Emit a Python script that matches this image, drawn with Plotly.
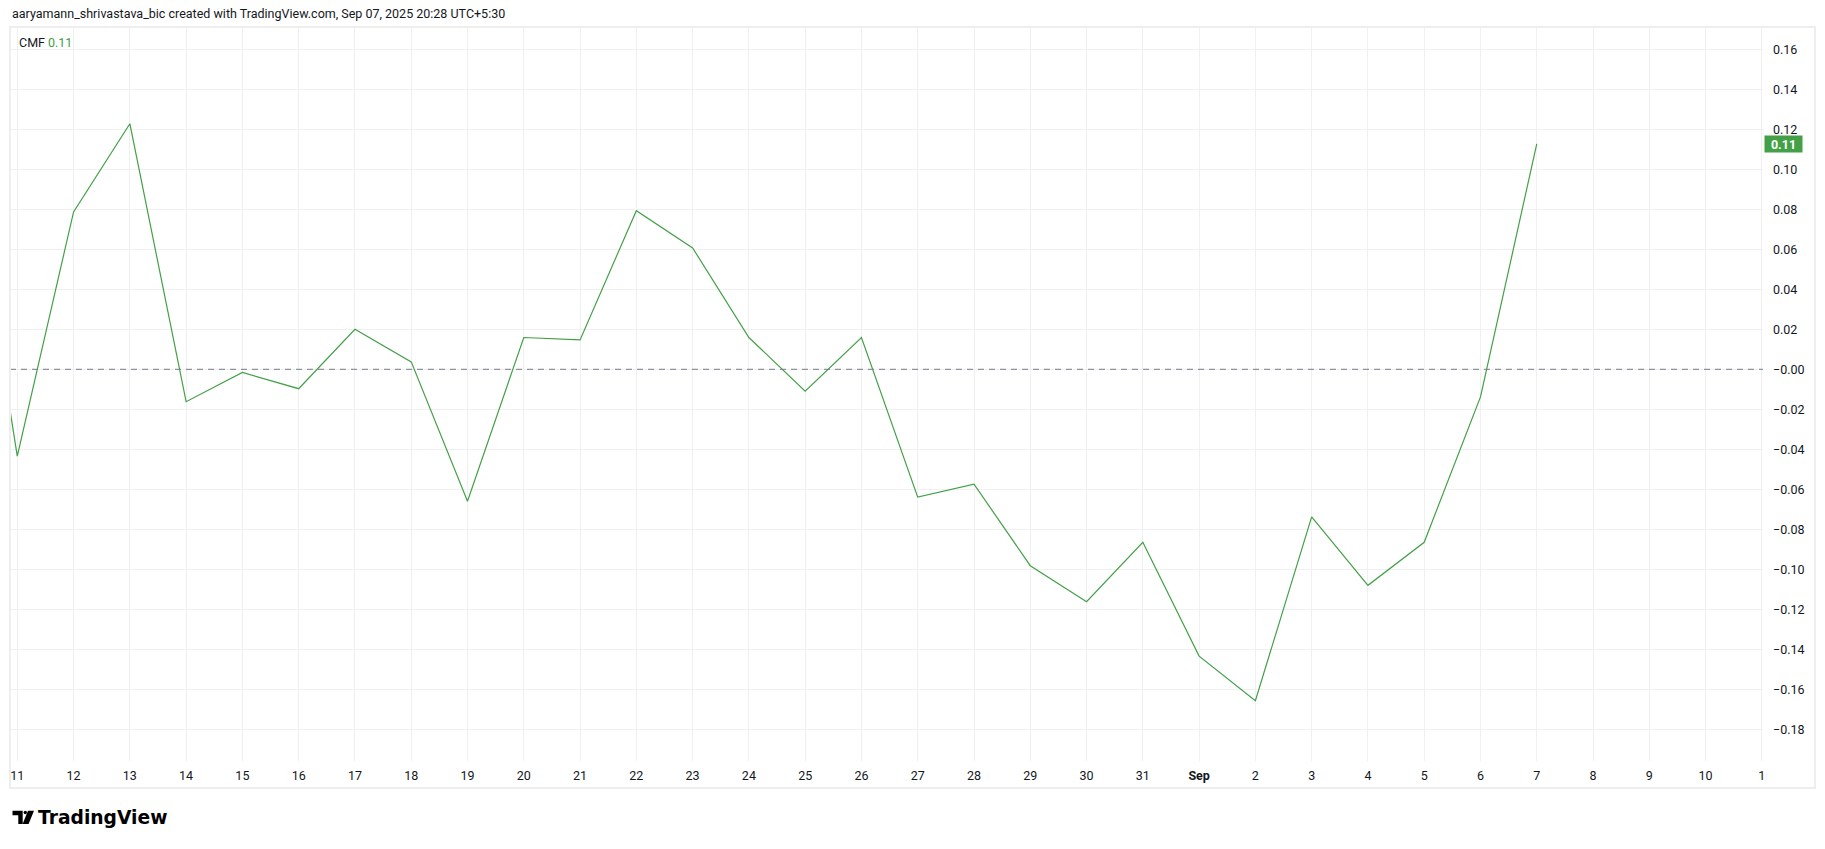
import pandas as pd
import plotly.graph_objects as go

# ---------------- data ----------------
dates = pd.date_range("2025-08-10", "2025-09-07", freq="D")
cmf = [0.134, -0.0434, 0.0787, 0.1228, -0.0162, -0.0016, -0.0097, 0.0200, 0.0037,
       -0.0660, 0.0159, 0.0147, 0.0793, 0.0607, 0.0159, -0.0109, 0.0159, -0.0639,
       -0.0574, -0.0982, -0.1162, -0.0865, -0.1434, -0.1657, -0.0738, -0.1080,
       -0.0865, -0.0138, 0.1127]
tick_dates = pd.date_range("2025-08-11", "2025-09-11", freq="D")
tick_text = ([str(d) for d in range(11, 32)] + ["<b>Sep</b>"] +
             [str(d) for d in range(2, 11)] + ["1"])
y_ticks = [round(-0.18 + 0.02 * k, 2) for k in range(18)]
y_text = ["\u22120.00" if abs(v) < 1e-9 else (f"{v:.2f}".replace("-", "\u2212")) for v in y_ticks]

header = "aaryamann_shrivastava_bic created with TradingView.com, Sep 07, 2025 20:28 UTC+5:30"
indicator_name = "CMF"

# ---------------- geometry ----------------
W, H = 1825, 849
PL, PR, PT, PB = 10, 1763, 27, 761
GREEN = "#43a047"
TXT = "#131722"
GRID = "#f0f0f0"
FONT = "Roboto, Liberation Sans, sans-serif"


def px(x):
    return (x - PL) / (PR - PL)


def py(y):
    return (PB - y) / (PB - PT)


x0 = pd.Timestamp("2025-08-11") + pd.Timedelta(days=-0.1296)
x1 = pd.Timestamp("2025-08-11") + pd.Timedelta(days=31.02)

fig = go.Figure()
fig.add_trace(go.Scatter(x=dates, y=cmf, mode="lines",
                         line=dict(color=GREEN, width=1.2), hoverinfo="skip",
                         showlegend=False))

fig.update_layout(
    width=W, height=H, autosize=False,
    margin=dict(l=PL, r=W - PR, t=PT, b=H - PB, pad=0),
    paper_bgcolor="white", plot_bgcolor="white",
    font=dict(family=FONT, size=12.5, color=TXT),
    showlegend=False,
)
fig.update_xaxes(type="date", range=[x0, x1], tickmode="array",
                 tickvals=tick_dates, ticktext=tick_text, showgrid=True,
                 gridcolor=GRID, gridwidth=1, zeroline=False, showline=False,
                 ticks="", ticklabelstandoff=5, tickfont=dict(size=12.5, color=TXT),
                 fixedrange=True)
fig.update_yaxes(side="right", range=[-0.19585, 0.17115], tickmode="array",
                 tickvals=y_ticks, ticktext=y_text, showgrid=True, gridcolor=GRID,
                 gridwidth=1, zeroline=False, showline=False, ticks="",
                 ticklabelstandoff=9, tickfont=dict(size=12.5, color=TXT),
                 fixedrange=True)

# zero dashed line
fig.add_shape(type="line", xref="paper", yref="y", x0=0, x1=1, y0=0, y1=0,
              line=dict(color="#787b86", width=1, dash="6px,5px"), layer="above")

# outer frame
fig.add_shape(type="rect", xref="paper", yref="paper", x0=px(10), x1=px(1815),
              y0=py(788), y1=py(27), line=dict(color="#eeeeee", width=2),
              fillcolor="rgba(0,0,0,0)", layer="above")

# header
fig.add_annotation(xref="paper", yref="paper", x=px(10), y=py(13), xanchor="left",
                   yanchor="middle", text=header, showarrow=False,
                   font=dict(size=12.5, color=TXT))
# legend text
fig.add_annotation(xref="paper", yref="paper", x=px(16.5), y=py(42), xanchor="left",
                   yanchor="middle", text=indicator_name, showarrow=False,
                   font=dict(size=12.5, color=TXT))
fig.add_annotation(xref="paper", yref="paper", x=px(45.5), y=py(42), xanchor="left",
                   yanchor="middle", text=f"{cmf[-1]:.2f}", showarrow=False,
                   font=dict(size=12.5, color=GREEN))
# last value label on price scale
fig.add_annotation(xref="paper", yref="y", x=1, y=cmf[-1], xanchor="left",
                   yanchor="middle", xshift=1, text=f"<b>{cmf[-1]:.2f}</b>",
                   showarrow=False, bgcolor=GREEN, width=35, height=14, borderpad=1,
                   font=dict(size=12.5, color="white"))

# TradingView logo mark
def path(points):
    s = "M " + " L ".join(f"{px(a):.5f},{py(b):.5f}" for a, b in points) + " Z"
    return s

fig.add_shape(type="path", xref="paper", yref="paper",
              path=path([(12.5, 810.7), (22.7, 810.7), (22.7, 824), (18.3, 824),
                         (18.3, 815.2), (12.5, 815.2)]),
              fillcolor="#000000", line=dict(width=0))
fig.add_shape(type="circle", xref="paper", yref="paper", x0=px(23.6), x1=px(27.0),
              y0=py(814.3), y1=py(810.7), fillcolor="#000000", line=dict(width=0))
fig.add_shape(type="path", xref="paper", yref="paper",
              path=path([(28.0, 810.7), (34.0, 810.7), (28.6, 824), (22.6, 824)]),
              fillcolor="#000000", line=dict(width=0))
fig.add_annotation(xref="paper", yref="paper", x=px(35.5), y=py(817.5), xanchor="left",
                   yanchor="middle", text="<b>TradingView</b>", showarrow=False,
                   font=dict(family="DejaVu Sans, sans-serif", size=18.7, color="#000000"))

fig.write_html("out.html", config={"displayModeBar": False},
               post_script="document.body.style.margin='0';document.body.style.overflow='hidden';")
